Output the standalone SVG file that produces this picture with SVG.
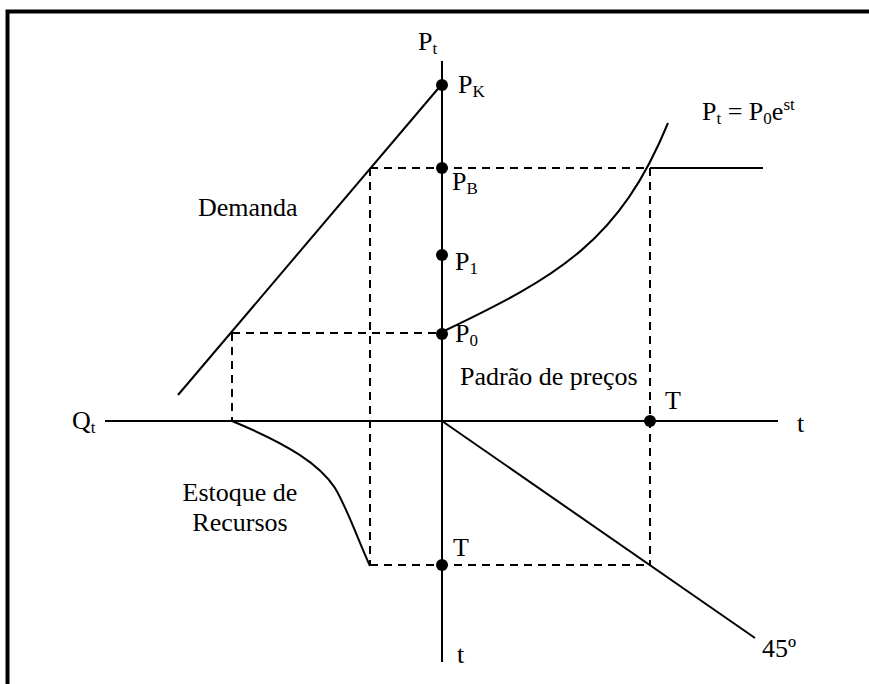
<svg xmlns="http://www.w3.org/2000/svg" width="869" height="684" viewBox="0 0 869 684">
<style>
.ax{stroke:#000;stroke-width:2;fill:none}
.ln{stroke:#000;stroke-width:2;fill:none}
.dash{stroke:#000;stroke-width:2;fill:none;stroke-dasharray:8,6}
.dot{fill:#000}
text{font-family:"Liberation Serif","Times New Roman",serif;font-size:26px;fill:#000}
.sub{font-size:17px}
</style>
<rect width="869" height="684" fill="#fff"/>
<path d="M7.5 684 V11.5 H869" stroke="#000" stroke-width="4" fill="none"/>
<g id="connectors">
<line class="ax" x1="442" y1="61" x2="442" y2="662"/>
<line class="ax" x1="105" y1="421" x2="778" y2="421"/>
<line class="ln" x1="178" y1="395" x2="442" y2="84"/>
<line class="ln" x1="442" y1="421" x2="755" y2="638"/>
<line class="ln" x1="650" y1="168" x2="763" y2="168"/>
<path class="ln" d="M442 332 C560 276 620 240 668 123"/>
<path class="ln" d="M232 421 C290 445 320 465 335 488 C348 510 358 540 370 566"/>
<line class="dash" x1="370" y1="168" x2="650" y2="168"/>
<line class="dash" x1="370" y1="168" x2="370" y2="565"/>
<line class="dash" x1="370" y1="565" x2="650" y2="565"/>
<line class="dash" x1="650" y1="168" x2="650" y2="565"/>
<line class="dash" x1="232" y1="333" x2="442" y2="333"/>
<line class="dash" x1="232" y1="333" x2="232" y2="421"/>
</g>
<g id="PK"><circle class="dot" cx="442" cy="85" r="6"/><text x="458" y="93">P<tspan class="sub" dy="4">K</tspan></text></g>
<g id="PB"><circle class="dot" cx="442" cy="168" r="6"/><text x="452" y="190">P<tspan class="sub" dy="4">B</tspan></text></g>
<g id="P1"><circle class="dot" cx="442" cy="255" r="6"/><text x="455" y="270">P<tspan class="sub" dy="4">1</tspan></text></g>
<g id="P0"><circle class="dot" cx="442" cy="334" r="6"/><text x="455" y="342">P<tspan class="sub" dy="4">0</tspan></text></g>
<g id="T1"><circle class="dot" cx="650" cy="421" r="6"/><text x="665" y="409">T</text></g>
<g id="T2"><circle class="dot" cx="442" cy="565" r="6"/><text x="453" y="556">T</text></g>
<g id="labels">
<text x="418" y="50">P<tspan class="sub" dy="4">t</tspan></text>
<text x="702" y="120">P<tspan class="sub" dy="4">t</tspan><tspan dy="-4"> = P</tspan><tspan class="sub" dy="4">0</tspan><tspan dy="-4">e</tspan><tspan class="sub" dy="-10">st</tspan></text>
<text x="198" y="216">Demanda</text>
<text x="460" y="385">Padrão de preços</text>
<text x="72" y="429">Q<tspan class="sub" dy="4">t</tspan></text>
<text x="797" y="432">t</text>
<text x="457" y="663">t</text>
<text x="762" y="657">45º</text>
<text x="240" y="501" text-anchor="middle">Estoque de</text>
<text x="240" y="531" text-anchor="middle">Recursos</text>
</g>
</svg>
